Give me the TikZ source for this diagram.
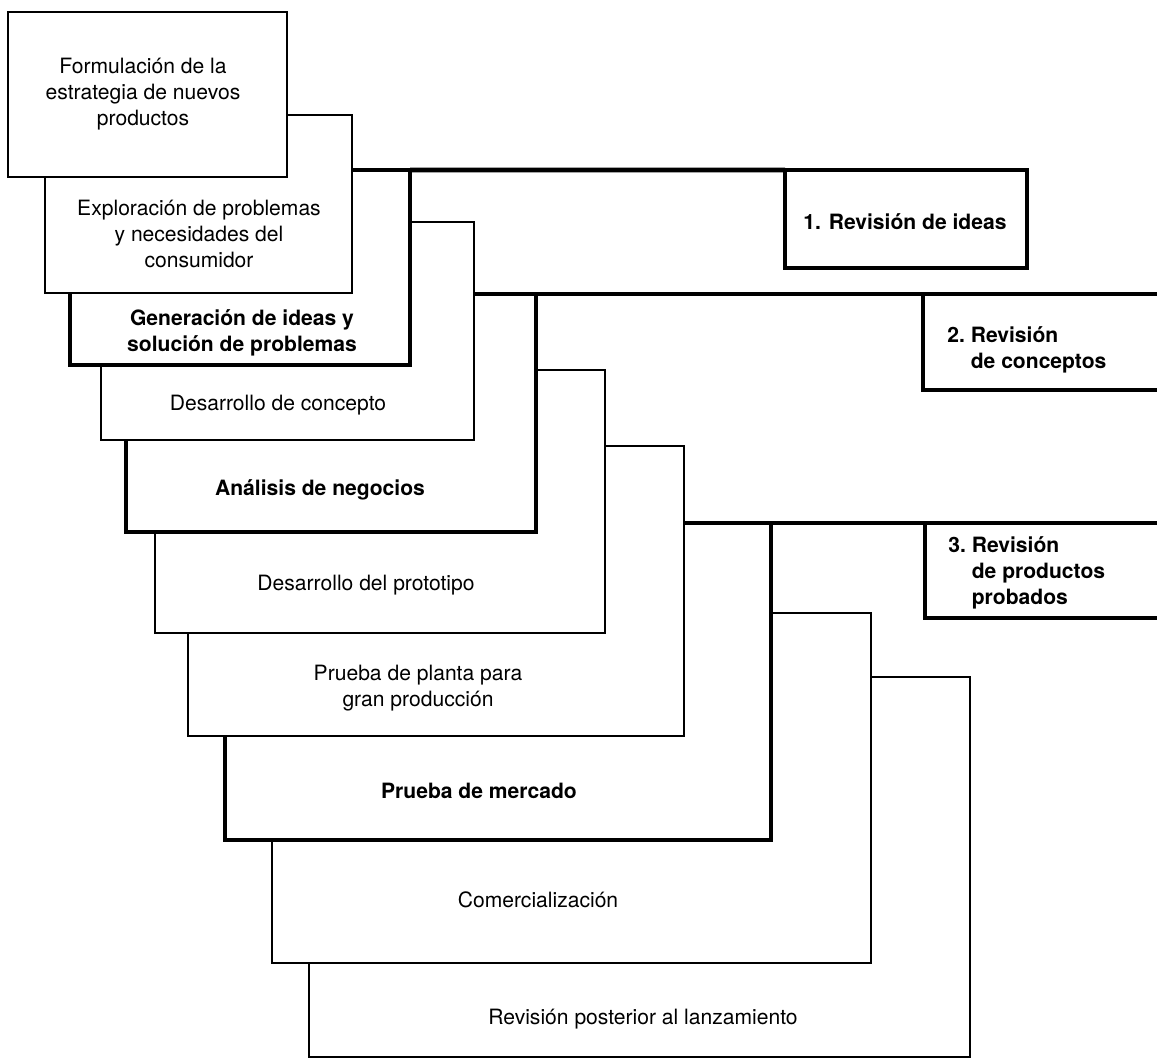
\documentclass[tikz,border=0pt]{standalone}
\usepackage{fontspec}
\setmainfont{TeX Gyre Heros}
\usetikzlibrary{fit}
\tikzset{
  box/.style={draw, fill=white, line width=1.1pt, inner sep=0pt, outer sep=0pt},
  thickbox/.style={box, line width=2.8pt},
  gatebox/.style={box, line width=2.8pt},
  link/.style={line width=2.8pt},
  lbl/.style={font=\fontsize{12}{14.75}\selectfont, align=center, inner sep=0pt},
  blbl/.style={lbl, font=\fontsize{12}{14.75}\selectfont\bfseries},
  glbl/.style={blbl, align=left, anchor=west}
}
\begin{document}
\begin{tikzpicture}[x=0.02cm, y=-0.02cm]
\useasboundingbox (0,0) rectangle (1157,1060);
\clip (0,0) rectangle (1157,1060);
% Revision posterior
\node[box, fit={(309,677)(970,1057)}] (J) {};
\node[lbl] (tJ) at (643,1019) {Revisión posterior al lanzamiento};
% Comercializacion
\node[box, fit={(272,613)(871,963)}] (I) {};
\node[lbl] (tI) at (538,900) {Comercialización};
% Prueba de mercado + review 3
\node[gatebox, fit={(925,523)(1185,618)}] (R3) {};
\node[glbl] (tR3) at (948,573) {3.~Revisión\\\hphantom{3.~}de productos\\\hphantom{3.~}probados};
\node[thickbox, fit={(225,523)(771,840)}] (H) {};
\draw[link] (H.north east) -- (R3.north west);
\node[blbl] (tH) at (479,791) {Prueba de mercado};
% Prueba de planta
\node[box, fit={(188,446)(684,736)}] (G) {};
\node[lbl] (tG) at (418,688) {Prueba de planta para\\gran producción};
% Desarrollo del prototipo
\node[box, fit={(155,370)(605,633)}] (F) {};
\node[lbl] (tF) at (366,585) {Desarrollo del prototipo};
% Analisis de negocios + review 2
\node[gatebox, fit={(923,294)(1185,390)}] (R2) {};
\node[glbl] (tR2) at (947,350) {2.~Revisión\\\hphantom{2.~}de conceptos};
\node[thickbox, fit={(126,294)(536,532)}] (E) {};
\draw[link] (E.north east) -- (R2.north west);
\node[blbl] (tE) at (320,490) {Análisis de negocios};
% Desarrollo de concepto
\node[box, fit={(101,222)(474,440)}] (D) {};
\node[lbl] (tD) at (278,405) {Desarrollo de concepto};
% Generacion de ideas + review 1
\node[gatebox, fit={(785,170)(1027,268)}] (R1) {};
\node[blbl] (tR1) at (905,222) {1. Revisión de ideas};
\node[thickbox, fit={(70,170)(410,365)}] (C) {};
\draw[link] (C.north east) -- (R1.north west);
\node[blbl] (tC) at (242,333) {Generación de ideas y\\solución de problemas};
% Exploracion
\node[box, fit={(45,115)(352,293)}] (B) {};
\node[lbl] (tB) at (199,234) {Exploración de problemas\\y necesidades del\\consumidor};
% Formulacion
\node[box, fit={(8,12)(287,177)}] (A) {};
\node[lbl] (tA) at (143,94) {Formulación de la\\estrategia de nuevos\\productos};
\end{tikzpicture}
\end{document}
